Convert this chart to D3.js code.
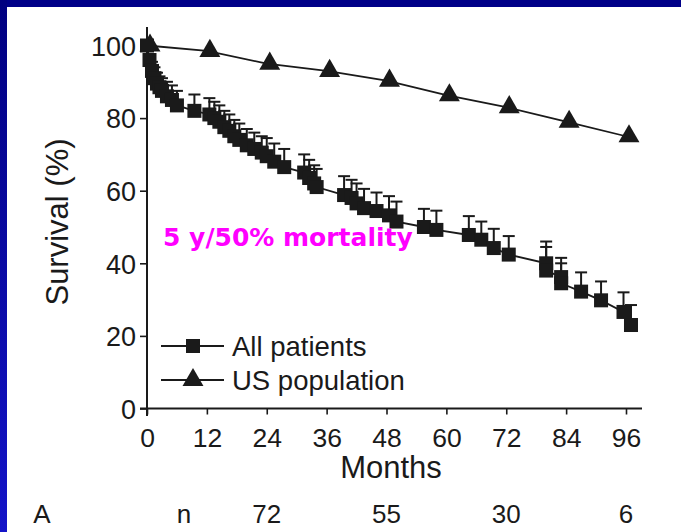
<!DOCTYPE html>
<html><head><meta charset="utf-8">
<script src="https://cdn.jsdelivr.net/npm/d3@7"></script>
<style>html,body{margin:0;padding:0;background:#fff;}svg{display:block;}</style>
</head><body>
<svg id="c" width="681" height="532"></svg>
<script>
// ---- data ----
const popMonths = [0, 12, 24, 36, 48, 60, 72, 84, 96];
const popSurvival = [100, 98.5, 95, 93, 90.3, 86.3, 83, 79, 75];

const patMonths = [0, 0.5, 1, 1.5, 2, 2.5, 3, 4, 5, 6, 9.5, 12.5, 13.5, 14.5, 15.5, 16.5, 17.5, 18.5, 20, 21.5, 23, 24, 25.5, 27.5, 31.5, 32.5, 33.5, 34, 39.5, 41, 42, 43.5, 46, 48.5, 50, 55.5, 58, 64.5, 67, 69.5, 72.5, 80, 80, 83, 83, 87, 91, 95.5, 97];
const patSurvival = [100, 96, 93, 91, 89.5, 88.5, 87.5, 86, 85, 83.5, 82, 81, 80, 79, 77.5, 76.5, 75, 74, 72.5, 71.5, 70.5, 69.5, 68, 66.5, 65, 63.5, 62, 61, 58.8, 58, 56.5, 55.2, 54.4, 53.2, 51.5, 50, 49.2, 47.8, 46.5, 44.2, 42.4, 40, 38, 36.2, 34.5, 32.2, 29.8, 26.6, 23];
const patUpper = [100, 97.5, 95.5, 94, 92.5, 91.5, 91, 90, 89, 87.5, 86.5, 85.5, 84.5, 83.5, 82, 81, 79.5, 78.5, 77, 76, 75, 74.5, 73, 71.5, 70, 68.5, 67, 66, 64, 63, 62, 60.5, 59.5, 58.5, 57, 55, 54.5, 53, 51.5, 49.5, 47.5, 46, 44.5, 41.5, 40, 37.5, 35, 32, 28.5];

const xTicks = [0, 12, 24, 36, 48, 60, 72, 84, 96];
const yTicks = [0, 20, 40, 60, 80, 100];
const atRiskMonths = [24, 48, 72, 96];
const atRiskN = ["72", "55", "30", "6"];
const seriesNames = ["All patients", "US population"];

// ---- drawing ----
const svg = d3.select("#c");
const ink = "#1a1a1a";
const font = "'Liberation Sans', Arial, sans-serif";

const defs = svg.append("defs");
const g1 = defs.append("linearGradient").attr("id","lb").attr("x1",0).attr("y1",0).attr("x2",0).attr("y2",1);
g1.append("stop").attr("offset","0%").attr("stop-color","#000080");
g1.append("stop").attr("offset","100%").attr("stop-color","#1414c8");

svg.append("rect").attr("x",0).attr("y",0).attr("width",681).attr("height",532).attr("fill","#fff");
svg.append("rect").attr("x",0).attr("y",0).attr("width",681).attr("height",7).attr("fill","#000088");
svg.append("rect").attr("x",0).attr("y",0).attr("width",7).attr("height",532).attr("fill","url(#lb)");

const x = d3.scaleLinear().domain([0, 96]).range([147, 626]);
const y = d3.scaleLinear().domain([0, 100]).range([408.5, 45.5]);

// axes
const xAxis = d3.axisBottom(x).tickValues(xTicks).tickSize(6).tickPadding(13).tickSizeOuter(0);
const gx = svg.append("g").attr("transform", `translate(0,${y(0)})`).call(xAxis);
gx.select(".domain").remove();
gx.append("line").attr("x1", 140).attr("x2", 642).attr("y1", 0).attr("y2", 0).attr("stroke", ink).attr("stroke-width", 2);
gx.selectAll(".tick line").attr("stroke", ink).attr("stroke-width", 1.6);
gx.selectAll(".tick text").attr("font-family", font).attr("font-size", 26.5).attr("fill", ink).attr("dy", "0.72em");

const yAxis = d3.axisLeft(y).tickValues(yTicks).tickSize(7).tickPadding(4).tickSizeOuter(0);
const gy = svg.append("g").attr("transform", `translate(${x(0)},0)`).call(yAxis);
gy.select(".domain").remove();
gy.append("line").attr("x1", 0).attr("x2", 0).attr("y1", 27).attr("y2", 416).attr("stroke", ink).attr("stroke-width", 2);
gy.selectAll(".tick line").attr("stroke", ink).attr("stroke-width", 1.6);
gy.selectAll(".tick text").attr("font-family", font).attr("font-size", 27).attr("fill", ink).attr("dy", "0.36em");

// axis titles
svg.append("text").attr("x", 391).attr("y", 478).attr("text-anchor", "middle")
  .attr("font-family", font).attr("font-size", 31).attr("fill", ink).text("Months");
svg.append("text").attr("transform", "translate(68,222) rotate(-90)").attr("text-anchor", "middle")
  .attr("font-family", font).attr("font-size", 31).attr("fill", ink).text("Survival (%)");

// at-risk row
svg.append("text").attr("x", 42).attr("y", 523).attr("text-anchor", "middle")
  .attr("font-family", font).attr("font-size", 26).attr("fill", ink).text("A");
svg.append("text").attr("x", 184).attr("y", 523).attr("text-anchor", "middle")
  .attr("font-family", font).attr("font-size", 26).attr("fill", ink).text("n");
svg.selectAll("text.risk").data(atRiskMonths).enter().append("text").attr("class","risk")
  .attr("x", d => x(d)).attr("y", 523).attr("text-anchor", "middle")
  .attr("font-family", font).attr("font-size", 26).attr("fill", ink)
  .text((d, i) => atRiskN[i]);

// US population
const popData = popMonths.map((m, i) => ({m, v: popSurvival[i]}));
const line = d3.line().x(d => x(d.m)).y(d => y(d.v));
svg.append("path").datum(popData).attr("d", line).attr("fill", "none").attr("stroke", ink).attr("stroke-width", 1.8);
const tri = d3.symbol().type(d3.symbolTriangle).size(190);
svg.selectAll("path.tri").data(popData).enter().append("path").attr("class","tri")
  .attr("d", tri).attr("transform", d => `translate(${x(d.m)+3},${y(d.v)})`).attr("fill", ink);

// patients
const patData = patMonths.map((m, i) => ({m, v: patSurvival[i], u: patUpper[i]}));
svg.append("path").datum(patData).attr("d", line).attr("fill", "none").attr("stroke", ink).attr("stroke-width", 1.8);
const eb = svg.append("g");
patData.filter(d => d.u > d.v).forEach(d => {
  eb.append("line").attr("x1", x(d.m)).attr("x2", x(d.m)).attr("y1", y(d.v)).attr("y2", y(d.u)).attr("stroke", ink).attr("stroke-width", 2);
  eb.append("line").attr("x1", x(d.m) - 6).attr("x2", x(d.m) + 6).attr("y1", y(d.u)).attr("y2", y(d.u)).attr("stroke", ink).attr("stroke-width", 2);
});
const sq = 14;
svg.selectAll("rect.sq").data(patData).enter().append("rect").attr("class","sq")
  .attr("x", d => x(d.m) - sq/2).attr("y", d => y(d.v) - sq/2).attr("width", sq).attr("height", sq).attr("fill", ink);

// legend
const lg = svg.append("g");
[346, 380].forEach((ly, i) => {
  lg.append("line").attr("x1", 161).attr("x2", 224).attr("y1", ly).attr("y2", ly).attr("stroke", ink).attr("stroke-width", 1.8);
  if (i === 0) lg.append("rect").attr("x", 193 - sq/2).attr("y", ly - sq/2).attr("width", sq).attr("height", sq).attr("fill", ink);
  else lg.append("path").attr("d", tri).attr("transform", `translate(193,${ly})`).attr("fill", ink);
  lg.append("text").attr("x", 232).attr("y", ly + 10).attr("font-family", font).attr("font-size", 27.5).attr("fill", ink).text(seriesNames[i]);
});

// annotation
svg.append("text").attr("x", 163).attr("y", 246).attr("font-family", "'DejaVu Sans', Verdana, sans-serif")
  .attr("font-weight", "bold").attr("font-size", 25).attr("fill", "#ff00ff").text("5 y/50% mortality");
</script>
</body></html>
